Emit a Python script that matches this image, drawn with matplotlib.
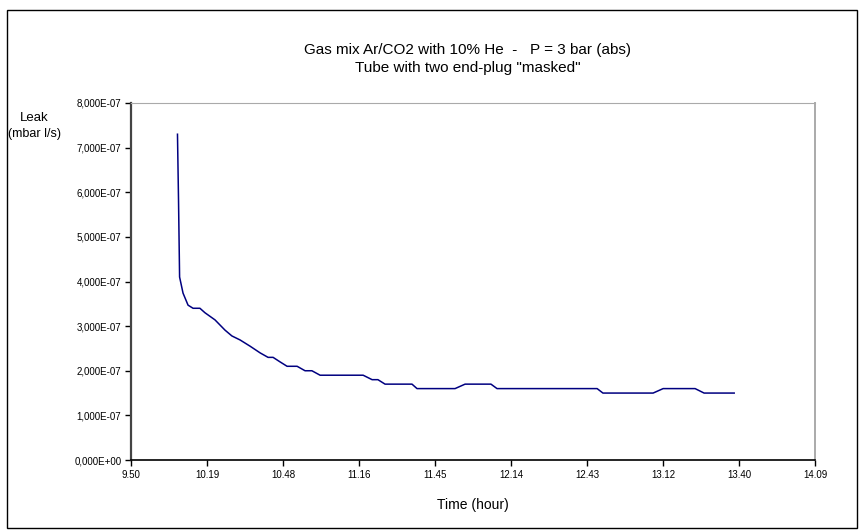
"""Leak rate vs time for an Ar/CO2 + He tube, Excel-style line chart."""
import matplotlib
matplotlib.use("Agg")
import matplotlib.pyplot as plt
from matplotlib.patches import Rectangle

plt.rcParams["font.family"] = ["Liberation Sans", "DejaVu Sans"]

# time in minutes after 9:50, leak in units of 1e-7 mbar l/s
minutes = [17.6, 18.0, 18.4, 19.7, 21.6, 23.5, 26.1, 28.0, 31.8, 35.6, 38.2,
           41.3, 45.1, 48.9, 51.9, 53.8, 56.4, 59.1, 62.9, 65.9, 68.5, 71.6,
           87.9, 91.3, 93.5, 96.2, 106.4, 108.3, 122.7, 126.5, 136.3, 138.6,
           176.5, 178.7, 197.7, 201.5, 213.6, 217.0, 228.4]
leak = [7.3, 5.8, 4.1, 3.74, 3.47, 3.4, 3.4, 3.3, 3.14, 2.91, 2.78,
        2.69, 2.55, 2.4, 2.3, 2.3, 2.2, 2.1, 2.1, 2.0, 2.0, 1.9,
        1.9, 1.8, 1.8, 1.7, 1.7, 1.6, 1.6, 1.7, 1.7, 1.6,
        1.6, 1.5, 1.5, 1.6, 1.6, 1.5, 1.5]

x_labels = ["9.50", "10.19", "10.48", "11.16", "11.45", "12.14", "12.43",
            "13.12", "13.40", "14.09"]
y_labels = ["0,000E+00", "1,000E-07", "2,000E-07", "3,000E-07", "4,000E-07",
            "5,000E-07", "6,000E-07", "7,000E-07", "8,000E-07"]

W, H = 865, 532
fig = plt.figure(figsize=(W / 100, H / 100), dpi=100)

# outer chart border
fig.patches.append(Rectangle((7 / W, 1 - 528 / H), 850 / W, 518 / H,
                             transform=fig.transFigure, fill=False,
                             edgecolor="black", linewidth=1.0))

left, right, top, bottom = 131, 815, 103, 460
ax = fig.add_axes([left / W, 1 - bottom / H, (right - left) / W, (bottom - top) / H])

ax.plot(minutes, [v * 1e-7 for v in leak], color="#000080", linewidth=1.1)

span = 259.0  # 9:50 -> 14:09
ax.set_xlim(0, span)
ax.set_ylim(0, 8e-7)
ax.set_xticks([span * i / (len(x_labels) - 1) for i in range(len(x_labels))])
ax.set_xticklabels(x_labels)
ax.set_yticks([i * 1e-7 for i in range(len(y_labels))])
ax.set_yticklabels(y_labels)
ax.tick_params(axis="both", direction="out", length=4, width=1,
               labelsize=7, colors="black", pad=3)

ax.spines["left"].set_color("#444444")
ax.spines["left"].set_linewidth(1.6)
ax.spines["bottom"].set_color("black")
ax.spines["bottom"].set_linewidth(1.2)
ax.spines["top"].set_color("#aaaaaa")
ax.spines["right"].set_color("#aaaaaa")
ax.spines["right"].set_linewidth(1.4)

fig.text(468 / W, 1 - 50 / H, "Gas mix Ar/CO2 with 10% He  -   P = 3 bar (abs)",
         ha="center", va="center", fontsize=11)
fig.text(468 / W, 1 - 68 / H, 'Tube with two end-plug "masked"',
         ha="center", va="center", fontsize=11)
fig.text(34 / W, 1 - 118 / H, "Leak", ha="center", va="center", fontsize=9.5)
fig.text(34 / W, 1 - 134 / H, "(mbar l/s)", ha="center", va="center", fontsize=9)
fig.text(473 / W, 1 - 505 / H, "Time (hour)", ha="center", va="center", fontsize=10)

fig.savefig("out.png", dpi=100)
